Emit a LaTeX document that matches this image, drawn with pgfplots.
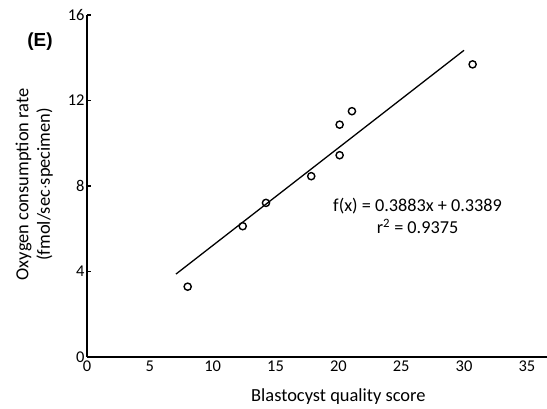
\documentclass[border=0pt]{standalone}
\usepackage{pgfplots}
\pgfplotsset{compat=1.18}
\usepackage{fontspec}
\setmainfont{Carlito}
\newfontfamily\arialfont{Liberation Sans}
\begin{document}
\begin{tikzpicture}[x=1bp,y=1bp]
\path[use as bounding box] (-87,-51) rectangle (460,357);
\begin{axis}[
  at={(0,0)}, anchor=south west,
  scale only axis, width=460bp, height=342bp,
  xmin=0, xmax=36.6, ymin=0, ymax=16,
  axis lines=left, axis line style={-, line width=2bp},
  xtick={0,5,...,35}, ytick={0,4,...,16},
  major tick length=0pt,
  xticklabel={\fontsize{16.5}{18}\selectfont\pgfmathprintnumber[assume math mode=true]{\tick}},
  yticklabel={\fontsize{16.5}{18}\selectfont\pgfmathprintnumber[assume math mode=true]{\tick}},
  xticklabel style={yshift=0bp},
  yticklabel style={xshift=1bp},
  clip=false,
]
\addplot[only marks, mark=o, mark size=3.6bp, mark options={line width=1.4bp, black}] coordinates {
  (8.01,3.29) (12.39,6.12) (14.24,7.21) (17.84,8.46)
  (20.1,9.44) (20.1,10.87) (21.08,11.5) (30.68,13.69)
};
\addplot[black, line width=1.3bp] coordinates {(7.08,3.88) (30.0,14.35)};
\addplot[black, line width=1.5bp, forget plot] coordinates {(0,4) (0.3,4)};
\addplot[black, line width=1.5bp, forget plot] coordinates {(0,8) (0.3,8)};
\addplot[black, line width=1.5bp, forget plot] coordinates {(0,12) (0.3,12)};
\addplot[black, line width=1.5bp, forget plot] coordinates {(0,16) (0.3,16)};
\node[align=center, font=\fontsize{18.3}{22}\selectfont] at (axis cs:26.3,6.6) {f(x) = 0.3883x + 0.3389\\r\textsuperscript{2} = 0.9375};
\node[font=\arialfont\bfseries\fontsize{19}{21}\selectfont] at (axis cs:-3.74,14.77) {(E)};
\node[font=\fontsize{18.5}{20}\selectfont] at (axis cs:20,-1.87) {Blastocyst quality score};
\node[rotate=90, align=center, font=\fontsize{18.5}{21.5}\selectfont] at (axis cs:-4.2,8.08) {Oxygen consumption rate\\(fmol/sec$\cdot$specimen)};
\end{axis}
\end{tikzpicture}
\end{document}
